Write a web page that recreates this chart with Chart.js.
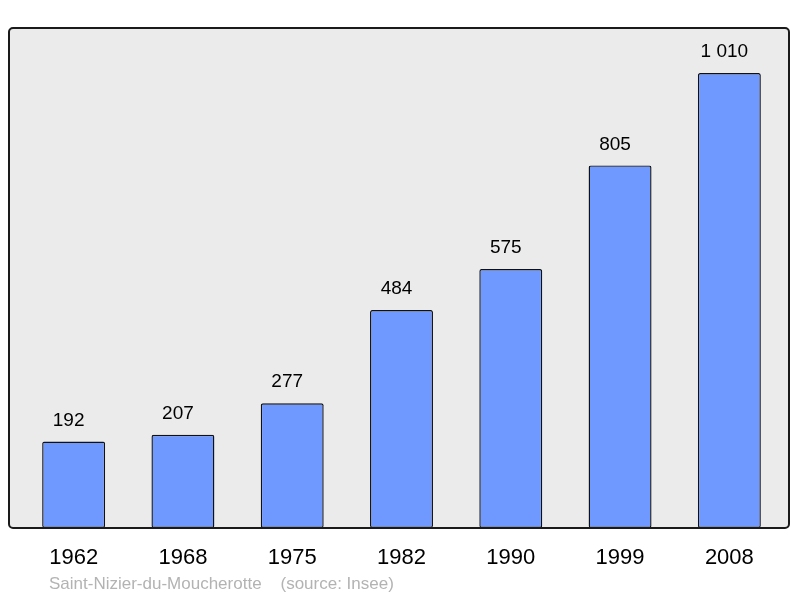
<!DOCTYPE html>
<html>
<head>
<meta charset="utf-8">
<script src="https://cdn.jsdelivr.net/npm/chart.js@4/dist/chart.umd.min.js"></script>
<style>
html,body{margin:0;padding:0;background:#fff;}
#wrap{width:800px;height:598px;}
</style>
</head>
<body>
<div id="wrap"><canvas id="c" width="800" height="598"></canvas></div>
<script>
const years=["1962","1968","1975","1982","1990","1999","2008"];
const population=[192,207,277,484,575,805,1010];
const caption="Saint-Nizier-du-Moucherotte    (source: Insee)";

function fmt(v){return String(v).replace(/\B(?=(\d{3})+(?!\d))/g," ");}

const frame={
id:"frame",
beforeDraw(chart){
const a=chart.chartArea,ctx=chart.ctx;
ctx.save();
ctx.beginPath();
ctx.roundRect(a.left-10,a.top,a.right-a.left+15,a.bottom-a.top,4);
ctx.fillStyle="#ebebeb";
ctx.fill();
ctx.restore();
},
afterDatasetsDraw(chart){
const a=chart.chartArea,ctx=chart.ctx;
ctx.save();
ctx.beginPath();
ctx.roundRect(a.left-10,a.top,a.right-a.left+15,a.bottom-a.top,4);
ctx.lineWidth=2;
ctx.strokeStyle="#1a1a1a";
ctx.stroke();
// value labels, set a little left of the bar centre like the original
ctx.font="19px 'Liberation Sans', Arial, sans-serif";
ctx.fillStyle="#000";
ctx.textAlign="center";
ctx.textBaseline="middle";
chart.getDatasetMeta(0).data.forEach((b,i)=>{
ctx.fillText(fmt(population[i]),b.x-5,b.y-21);
});
// caption
ctx.font="17px 'Liberation Sans', Arial, sans-serif";
ctx.fillStyle="#b3b3b3";
ctx.textAlign="left";
ctx.fillText(caption,49,584);
ctx.restore();
}
};

new Chart(document.getElementById("c"),{
type:"bar",
data:{labels:years,datasets:[{
data:population,
backgroundColor:"#7099ff",
borderColor:"#111",
borderWidth:1.4,
borderRadius:2,
borderSkipped:false,
barPercentage:0.576,
categoryPercentage:1
}]},
options:{
responsive:false,
animation:false,
layout:{padding:{left:19,right:16,top:28,bottom:0}},
plugins:{legend:{display:false},tooltip:{enabled:false}},
scales:{
x:{
grid:{display:false,drawTicks:false},
border:{display:false},
ticks:{color:"#000",padding:17,font:{family:"'Liberation Sans', Arial, sans-serif",size:22}},
afterFit(s){s.height=70;}
},
y:{display:false,min:0,max:1110}
}
},
plugins:[frame]
});
</script>
</body>
</html>
